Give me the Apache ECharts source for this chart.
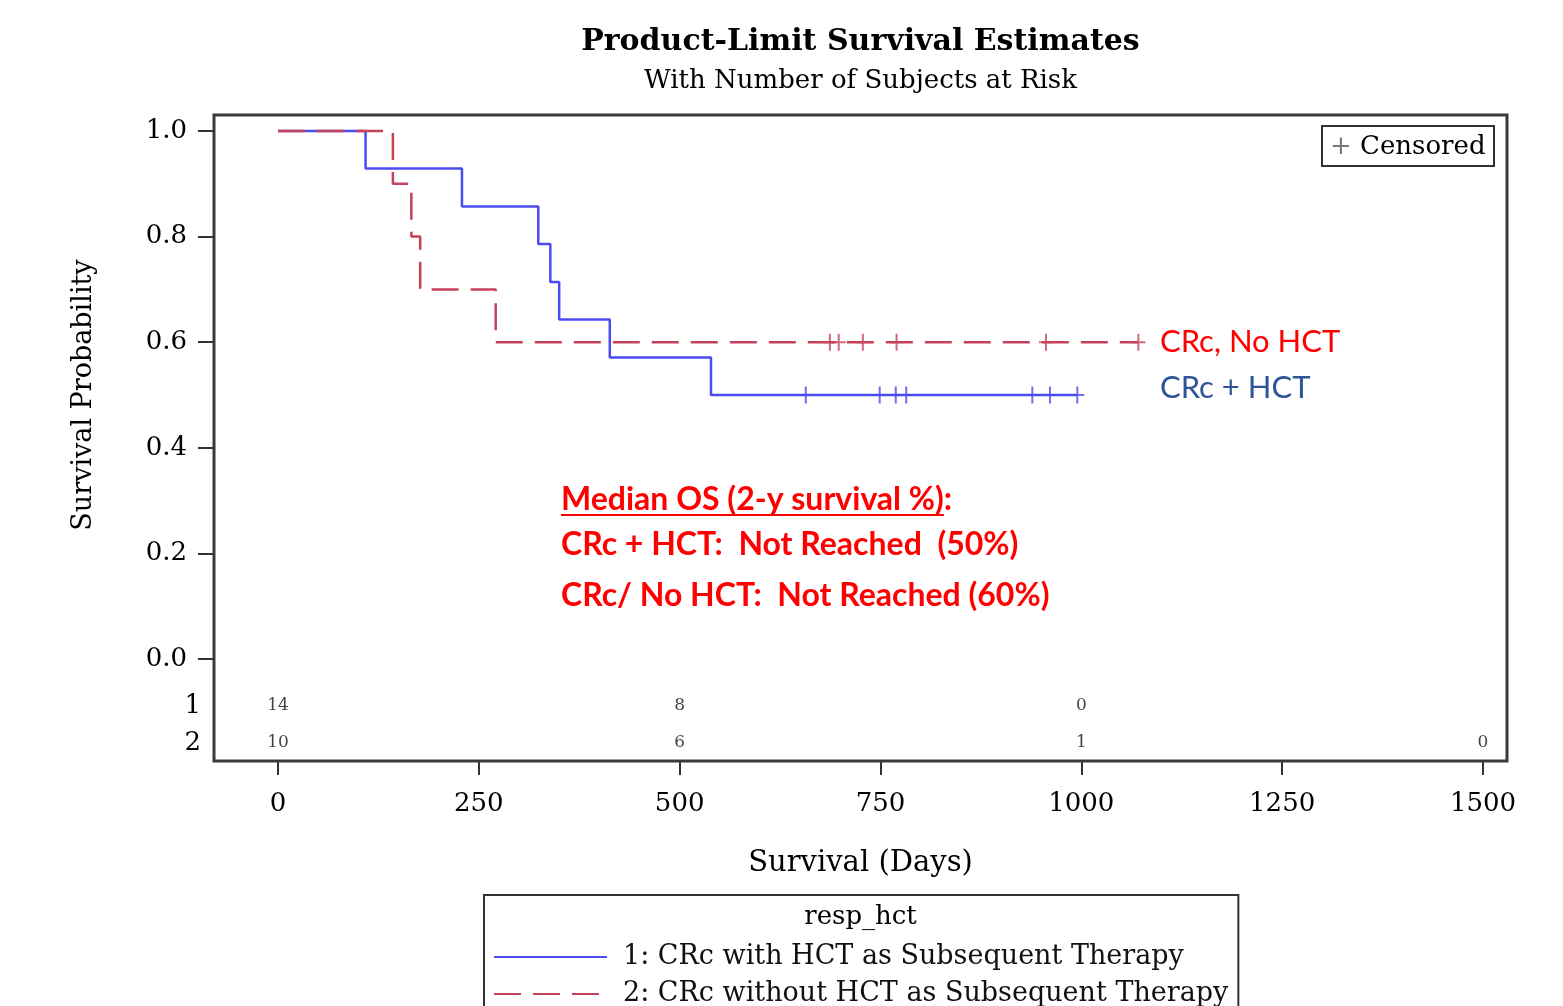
<!DOCTYPE html>
<html><head><meta charset="utf-8">
<script src="https://cdn.jsdelivr.net/npm/echarts@6/dist/echarts.min.js"></script>
<style>html,body{margin:0;padding:0;background:#fff}#c{width:1563px;height:1006px}</style>
</head><body><div id="c"></div>
<script>
// ---- data ----
const hctEventDays = [0, 109, 229, 324, 339, 350, 413, 539];
const hctSurvival = [1, 0.929, 0.857, 0.786, 0.714, 0.643, 0.571, 0.5];
const hctLastDay = 995;
const hctCensorDays = [657, 749, 769, 782, 939, 961, 995];

const noHctEventDays = [0, 143, 166, 177, 271];
const noHctSurvival = [1, 0.9, 0.8, 0.7, 0.6];
const noHctLastDay = 1071;
const noHctCensorDays = [687, 698, 728, 770, 956, 1071];

const riskDays = [0, 500, 1000, 1500];
const riskHct = [14, 8, 0, null];
const riskNoHct = [10, 6, 1, 0];
const riskRows = ['1', '2'];

const xTickValues = [0, 250, 500, 750, 1000, 1250, 1500];
const yTickValues = [0, 0.2, 0.4, 0.6, 0.8, 1.0];

const seriesNames = ['1: CRc with HCT as Subsequent Therapy', '2: CRc without HCT as Subsequent Therapy'];
const titleText = 'Product-Limit Survival Estimates';
const subtitleText = 'With Number of Subjects at Risk';
const xAxisTitle = 'Survival (Days)';
const yAxisTitle = 'Survival Probability';
const annotLines = ['Median OS (2-y survival %)', 'CRc + HCT:  Not Reached  (50%)', 'CRc/ No HCT:  Not Reached (60%)'];

// ---- helpers ----
const SERIF = '"DejaVu Serif", serif';
const SANS = 'Lato, "Open Sans", sans-serif';
const BLUE = '#4b4bef';
const RED = '#c5435a';
const PLUS = 'path://M6,0h2v17h-2zM0,7.5h14v2h-14z';

// frame extents (axis range beyond the 0..1500 / 0..1 ticks)
const X_MIN = -79.67, X_MAX = 1529.88;
const Y_MIN = -0.1932, Y_MAX = 1.0303;

function stepData(days, surv, last) {
  const d = days.map((t, i) => [t, surv[i]]);
  d.push([last, surv[surv.length - 1]]);
  return d;
}
function survAt(days, surv, t) {
  let s = surv[0];
  for (let i = 0; i < days.length; i++) if (days[i] <= t) s = surv[i];
  return s;
}
function riskData(row, vals) {
  const out = [];
  riskDays.forEach((d, i) => { if (vals[i] != null) out.push([d, row, vals[i]]); });
  return out;
}
function measure(text, font) {
  const ctx = document.createElement('canvas').getContext('2d');
  ctx.font = font;
  return ctx.measureText(text).width;
}

const annotFont = 'bold 32px ' + SANS;
const annotX = 561;
const underW = measure(annotLines[0], annotFont);

const chart = echarts.init(document.getElementById('c'), null, { renderer: 'canvas' });
chart.setOption({
  backgroundColor: '#fff',
  animation: false,
  grid: [
    { left: 214, right: 56, top: 115, bottom: 245 },
    { left: 214, right: 56, top: 687.5, height: 74 }
  ],
  xAxis: [
    {
      type: 'value', gridIndex: 0, min: X_MIN, max: X_MAX,
      axisLine: { show: false, onZero: false },
      axisTick: { show: true, length: 14, customValues: xTickValues, lineStyle: { color: '#333', width: 2 } },
      axisLabel: { fontFamily: SERIF, fontSize: 26, color: '#000', margin: 30, customValues: xTickValues, formatter: v => String(v) },
      splitLine: { show: false },
      name: xAxisTitle, nameLocation: 'middle', nameGap: 88,
      nameTextStyle: { fontFamily: SERIF, fontSize: 29, color: '#000' }
    },
    { type: 'value', gridIndex: 1, min: X_MIN, max: X_MAX, show: false }
  ],
  yAxis: [
    {
      type: 'value', gridIndex: 0, min: Y_MIN, max: Y_MAX,
      axisLine: { show: false, onZero: false },
      axisTick: { show: true, length: 16, customValues: yTickValues, lineStyle: { color: '#333', width: 2 } },
      axisLabel: { fontFamily: SERIF, fontSize: 26, color: '#000', margin: 27, customValues: yTickValues, formatter: v => v.toFixed(1) },
      splitLine: { show: false }
    },
    {
      type: 'category', gridIndex: 1, data: riskRows, inverse: true,
      axisLine: { show: false, onZero: false }, axisTick: { show: false }, splitLine: { show: false },
      axisLabel: { fontFamily: SERIF, fontSize: 26, color: '#000', margin: 13 }
    }
  ],
  legend: {
    data: seriesNames, orient: 'vertical', left: 484, top: 895, height: 80,
    padding: [47, 10, 20, 9], itemGap: 7, itemWidth: 113, itemHeight: 20,
    borderColor: '#333', borderWidth: 2, selectedMode: false,
    itemStyle: { opacity: 0 },
    textStyle: { fontFamily: SERIF, fontSize: 27, color: '#111', lineHeight: 30, padding: [0, 0, 0, 11] }
  },
  series: [
    {
      name: seriesNames[0], type: 'line', step: 'end', clip: false, symbol: 'none',
      data: stepData(hctEventDays, hctSurvival, hctLastDay),
      lineStyle: { color: BLUE, width: 2.5 }, itemStyle: { color: BLUE }, z: 2
    },
    {
      name: seriesNames[1], type: 'line', step: 'end', clip: false, symbol: 'none',
      data: stepData(noHctEventDays, noHctSurvival, noHctLastDay),
      lineStyle: { color: RED, width: 2.5, type: [27, 12] }, itemStyle: { color: RED }, z: 3
    },
    {
      name: 'hct censored', type: 'scatter', symbol: PLUS, symbolSize: [14, 17],
      data: hctCensorDays.map(t => [t, survAt(hctEventDays, hctSurvival, t)]),
      itemStyle: { color: BLUE }, z: 4, silent: true
    },
    {
      name: 'nohct censored', type: 'scatter', symbol: PLUS, symbolSize: [14, 17],
      data: noHctCensorDays.map(t => [t, survAt(noHctEventDays, noHctSurvival, t)]),
      itemStyle: { color: RED }, z: 4, silent: true
    },
    {
      name: 'risk1', type: 'scatter', xAxisIndex: 1, yAxisIndex: 1, symbolSize: 1,
      itemStyle: { color: 'rgba(0,0,0,0)' }, silent: true,
      data: riskData(riskRows[0], riskHct),
      label: { show: true, position: 'inside', formatter: p => p.value[2], fontFamily: SERIF, fontSize: 17, color: '#111' }
    },
    {
      name: 'risk2', type: 'scatter', xAxisIndex: 1, yAxisIndex: 1, symbolSize: 1,
      itemStyle: { color: 'rgba(0,0,0,0)' }, silent: true,
      data: riskData(riskRows[1], riskNoHct),
      label: { show: true, position: 'inside', formatter: p => p.value[2], fontFamily: SERIF, fontSize: 17, color: '#111' }
    }
  ],
  graphic: [
    { type: 'rect', shape: { x: 214, y: 115, width: 1293, height: 646 }, style: { fill: 'none', stroke: '#3a3a3a', lineWidth: 3 }, z: 10, silent: true },
    { type: 'text', x: 860.5, y: 42, style: { text: titleText, font: 'bold 30px ' + SERIF, fill: '#000', textAlign: 'center', textVerticalAlign: 'middle' } },
    { type: 'text', x: 860.5, y: 81, style: { text: subtitleText, font: '26px ' + SERIF, fill: '#000', textAlign: 'center', textVerticalAlign: 'middle' } },
    { type: 'text', x: 84, y: 395, rotation: Math.PI / 2, style: { text: yAxisTitle, font: '27px ' + SERIF, fill: '#000', textAlign: 'center', textVerticalAlign: 'middle' } },
    { type: 'rect', shape: { x: 1322, y: 126, width: 172, height: 40 }, style: { fill: '#fff', stroke: '#333', lineWidth: 2 }, z: 10 },
    { type: 'text', x: 1330, y: 147, z: 11, style: { text: '{p|+} Censored', font: '26px ' + SERIF, fill: '#000', textVerticalAlign: 'middle',
      rich: { p: { fontFamily: SERIF, fontSize: 26, fill: '#777', color: '#777' } } } },
    { type: 'text', x: 860.5, y: 917, style: { text: 'resp_hct', font: '26px ' + SERIF, fill: '#000', textAlign: 'center', textVerticalAlign: 'middle' } },
    { type: 'text', x: annotX, y: 500, style: { text: annotLines[0] + ':', font: annotFont, fill: '#ff0000', textVerticalAlign: 'middle' } },
    { type: 'line', shape: { x1: annotX, y1: 515, x2: annotX + underW, y2: 515 }, style: { stroke: '#ff0000', lineWidth: 2 } },
    { type: 'text', x: annotX, y: 545, style: { text: annotLines[1], font: annotFont, fill: '#ff0000', textVerticalAlign: 'middle' } },
    { type: 'text', x: annotX, y: 596, style: { text: annotLines[2], font: annotFont, fill: '#ff0000', textVerticalAlign: 'middle' } },
    { type: 'text', x: 1160, y: 342, style: { text: 'CRc, No HCT', font: '31px ' + SANS, fill: '#ff0000', textVerticalAlign: 'middle' } },
    { type: 'text', x: 1160, y: 388, style: { text: 'CRc + HCT', font: '31px ' + SANS, fill: '#2f5597', textVerticalAlign: 'middle' } }
  ]
});
</script>
</body></html>
